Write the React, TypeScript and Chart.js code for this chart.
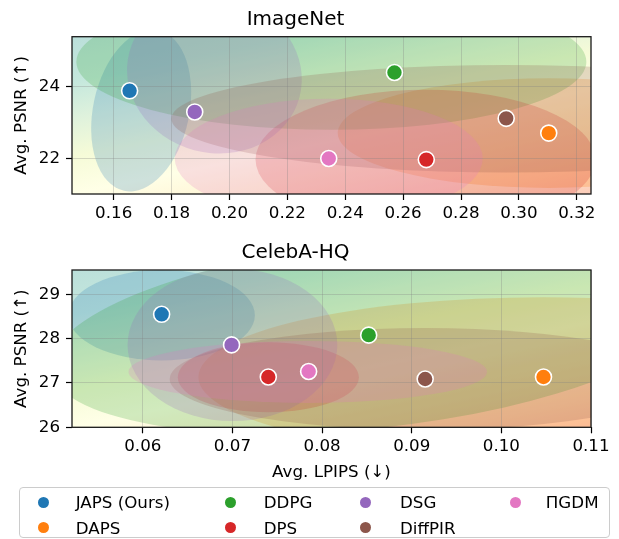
import React, { useEffect, useRef } from 'react';
import { Chart, registerables } from 'chart.js';
Chart.register(...registerables);

// ---------------- data ----------------
const methods = ['JAPS (Ours)', 'DAPS', 'DDPG', 'DPS', 'DSG', 'DiffPIR', 'ΠGDM'];
const methodColors = ['#1f77b4', '#ff7f0e', '#2ca02c', '#d62728', '#9467bd', '#8c564b', '#e377c2'];

// ImageNet: mean LPIPS / PSNR
const imagenetLPIPS = [0.1655, 0.3103, 0.257, 0.268, 0.188, 0.2956, 0.2343];
const imagenetPSNR = [23.88, 22.7, 24.39, 21.96, 23.29, 23.11, 21.99];
// ImageNet spread ellipses (centre, semi-axes, tilt in degrees)
const imagenetEllX = [0.1695, 0.3103, 0.2352, 0.2677, 0.1948, 0.2956, 0.2343];
const imagenetEllY = [23.33, 22.7, 24.69, 21.96, 24.33, 23.1, 21.99];
const imagenetEllRX = [0.0166, 0.0729, 0.0881, 0.0587, 0.0304, 0.1157, 0.0532];
const imagenetEllRY = [2.29, 1.53, 1.9, 1.95, 2.18, 1.5, 1.67];
const imagenetEllTilt = [12, 0, 0, 0, 15, 0, 0];

// CelebA-HQ: mean LPIPS / PSNR
const celebaLPIPS = [0.0621, 0.1047, 0.0852, 0.074, 0.0699, 0.0915, 0.0785];
const celebaPSNR = [28.55, 27.135, 28.08, 27.135, 27.86, 27.09, 27.26];
const celebaEllX = [0.0621, 0.1047, 0.0855, 0.074, 0.07, 0.0915, 0.0784];
const celebaEllY = [28.53, 27.135, 28.08, 27.13, 27.86, 27.09, 27.25];
const celebaEllRX = [0.0104, 0.0385, 0.036, 0.0101, 0.0117, 0.0285, 0.02];
const celebaEllRY = [1.02, 1.8, 2.1, 0.79, 1.72, 1.15, 0.7];
const celebaEllTilt = [0, 0, -6, 0, 0, 0, 0];

// axes
const imagenetXTicks = [0.16, 0.18, 0.2, 0.22, 0.24, 0.26, 0.28, 0.3, 0.32];
const imagenetYTicks = [22, 24];
const imagenetXRange = [0.1456, 0.3249];
const imagenetYRange = [21.0, 25.39];
const celebaXTicks = [0.06, 0.07, 0.08, 0.09, 0.1, 0.11];
const celebaYTicks = [26, 27, 28, 29];
const celebaXRange = [0.0521, 0.11];
const celebaYRange = [26, 29.55];

// ---------------- styling ----------------
const FONT = 'DejaVu Sans';
// Spectral-like colour map (teal top end)
const BG_STOPS: [number, string][] = [
  [0.0, '#9e0142'],
  [0.1, '#d53e4f'],
  [0.2, '#f46d43'],
  [0.3, '#fdae61'],
  [0.4, '#fee08b'],
  [0.5, '#ffffbf'],
  [0.6, '#e6f598'],
  [0.7, '#abdda4'],
  [0.8, '#66c2a5'],
  [1.0, '#3a9c9a'],
];
const BG_V0 = 0.5;
const BG_A = 0.42; // weight of PSNR direction
const BG_B = 0.28; // weight of LPIPS direction
const BG_ALPHA = 0.38;
const ELL_ALPHA = 0.22;

function hexA(hex: string, a: number) {
  const r = parseInt(hex.slice(1, 3), 16);
  const g = parseInt(hex.slice(3, 5), 16);
  const b = parseInt(hex.slice(5, 7), 16);
  return `rgba(${r},${g},${b},${a})`;
}

function decorPlugin(ex: number[], ey: number[], erx: number[], ery: number[], tilt: number[]) {
  return {
    id: 'decor',
    beforeDraw(chart: any) {
      const { ctx, chartArea: a, scales } = chart;
      const xs = scales.x;
      const ys = scales.y;
      const W = a.right - a.left;
      const H = a.bottom - a.top;
      ctx.save();
      ctx.beginPath();
      ctx.rect(a.left, a.top, W, H);
      ctx.clip();
      ctx.fillStyle = '#ffffff';
      ctx.fillRect(a.left, a.top, W, H);
      // background quality gradient
      const gx = -BG_B / W;
      const gy = -BG_A / H;
      const g2 = gx * gx + gy * gy;
      const p0x = a.left - (BG_V0 * gx) / g2;
      const p0y = a.bottom - (BG_V0 * gy) / g2;
      const p1x = p0x + gx / g2;
      const p1y = p0y + gy / g2;
      const grad = ctx.createLinearGradient(p0x, p0y, p1x, p1y);
      BG_STOPS.forEach(([t, c]) => grad.addColorStop(t, c));
      ctx.globalAlpha = BG_ALPHA;
      ctx.fillStyle = grad;
      ctx.fillRect(a.left, a.top, W, H);
      ctx.globalAlpha = 1;
      // spread ellipses
      for (let i = 0; i < ex.length; i++) {
        const cx = xs.getPixelForValue(ex[i]);
        const cy = ys.getPixelForValue(ey[i]);
        const rx = Math.abs(xs.getPixelForValue(ex[i] + erx[i]) - cx);
        const ry = Math.abs(ys.getPixelForValue(ey[i] + ery[i]) - cy);
        ctx.beginPath();
        ctx.ellipse(cx, cy, rx, ry, (tilt[i] * Math.PI) / 180, 0, Math.PI * 2);
        ctx.fillStyle = hexA(methodColors[i], ELL_ALPHA);
        ctx.fill();
      }
      ctx.restore();
    },
    afterDraw(chart: any) {
      const { ctx, chartArea: a } = chart;
      ctx.save();
      ctx.strokeStyle = '#1a1a1a';
      ctx.lineWidth = 1.3;
      ctx.strokeRect(a.left, a.top, a.right - a.left, a.bottom - a.top);
      ctx.restore();
    },
  };
}

type PanelCfg = {
  title: string;
  xs: number[];
  ys: number[];
  xTicks: number[];
  yTicks: number[];
  xRange: number[];
  yRange: number[];
  ell: [number[], number[], number[], number[], number[]];
  height: number;
  plotBottom: number;
  titlePad: { top: number; bottom: number };
  xTitle: boolean;
};

function buildChart(canvas: HTMLCanvasElement, p: PanelCfg) {
  const datasets = methods.map((m, i) => ({
    label: m,
    data: [{ x: p.xs[i], y: p.ys[i] }],
    backgroundColor: methodColors[i],
    borderColor: '#ffffff',
    borderWidth: 1.6,
    pointRadius: 8,
    pointHoverRadius: 8,
  }));
  const tickFont = { family: FONT, size: 16.7, lineHeight: 1.2 };
  return new Chart(canvas, {
    type: 'scatter',
    data: { datasets },
    plugins: [decorPlugin(...p.ell)],
    options: {
      animation: false,
      responsive: false,
      events: [],
      layout: { padding: { left: 0, right: 28, top: 0, bottom: 0 } },
      plugins: {
        legend: { display: false },
        tooltip: { enabled: false },
        title: {
          display: true,
          text: p.title,
          color: '#000',
          font: { family: FONT, size: 20, weight: 'normal', lineHeight: 1.2 },
          padding: p.titlePad,
        },
      },
      scales: {
        x: {
          type: 'linear',
          min: p.xRange[0],
          max: p.xRange[1],
          afterBuildTicks: (s: any) => {
            s.ticks = p.xTicks.map((v) => ({ value: v }));
          },
          afterFit: (s: any) => {
            s.height = p.height - p.plotBottom;
          },
          border: { display: false },
          grid: {
            color: 'rgba(128,128,128,0.3)',
            lineWidth: 1,
            tickColor: '#000',
            tickLength: 6,
            tickWidth: 1.2,
          },
          ticks: {
            color: '#000',
            font: tickFont,
            padding: 3.8,
            autoSkip: false,
            maxRotation: 0,
            callback: (v: any) => Number(v).toFixed(2),
          },
          title: {
            display: p.xTitle,
            text: 'Avg. LPIPS (↓)',
            color: '#000',
            font: tickFont,
            padding: { top: 0, bottom: 7 },
          },
        },
        y: {
          type: 'linear',
          min: p.yRange[0],
          max: p.yRange[1],
          afterBuildTicks: (s: any) => {
            s.ticks = p.yTicks.map((v) => ({ value: v }));
          },
          afterFit: (s: any) => {
            s.width = 72;
          },
          border: { display: false },
          grid: {
            color: 'rgba(128,128,128,0.3)',
            lineWidth: 1,
            tickColor: '#000',
            tickLength: 6,
            tickWidth: 1.2,
          },
          ticks: {
            color: '#000',
            font: tickFont,
            padding: 6,
            autoSkip: false,
            callback: (v: any) => String(Math.round(Number(v))),
          },
          title: {
            display: true,
            text: 'Avg. PSNR (↑)',
            color: '#000',
            font: tickFont,
            padding: { top: 11.4, bottom: 0 },
          },
        },
      },
    } as any,
  });
}

const legendCols = [
  { marker: 43.8, text: 75.7 },
  { marker: 230, text: 263.7 },
  { marker: 365.7, text: 400 },
  { marker: 515, text: 545.8 },
];
// column-major placement, two rows
const legendRowsY = [502, 527.5];

export default function App() {
  const topRef = useRef<HTMLCanvasElement>(null);
  const botRef = useRef<HTMLCanvasElement>(null);

  useEffect(() => {
    const c1 = buildChart(topRef.current!, {
      title: 'ImageNet',
      xs: imagenetLPIPS,
      ys: imagenetPSNR,
      xTicks: imagenetXTicks,
      yTicks: imagenetYTicks,
      xRange: imagenetXRange,
      yRange: imagenetYRange,
      ell: [imagenetEllX, imagenetEllY, imagenetEllRX, imagenetEllRY, imagenetEllTilt],
      height: 240,
      plotBottom: 194,
      titlePad: { top: 7.5, bottom: 5.2 },
      xTitle: false,
    });
    const c2 = buildChart(botRef.current!, {
      title: 'CelebA-HQ',
      xs: celebaLPIPS,
      ys: celebaPSNR,
      xTicks: celebaXTicks,
      yTicks: celebaYTicks,
      xRange: celebaXRange,
      yRange: celebaYRange,
      ell: [celebaEllX, celebaEllY, celebaEllRX, celebaEllRY, celebaEllTilt],
      height: 250,
      plotBottom: 187.3,
      titlePad: { top: 0.8, bottom: 5.2 },
      xTitle: true,
    });
    return () => {
      c1.destroy();
      c2.destroy();
    };
  }, []);

  return (
    <div
      style={{
        position: 'fixed',
        left: 0,
        top: 0,
        width: 619,
        height: 539,
        background: '#fff',
        overflow: 'hidden',
        fontFamily: FONT,
      }}
    >
      <canvas
        ref={topRef}
        width={619}
        height={240}
        style={{ position: 'absolute', left: 0, top: 0, width: 619, height: 240 }}
      />
      <canvas
        ref={botRef}
        width={619}
        height={250}
        style={{ position: 'absolute', left: 0, top: 240, width: 619, height: 250 }}
      />
      <div
        style={{
          position: 'absolute',
          left: 18.7,
          top: 487,
          width: 591,
          height: 51,
          border: '1px solid #cccccc',
          borderRadius: 4,
          background: 'rgba(255,255,255,0.8)',
          boxSizing: 'border-box',
        }}
      />
      {methods.map((m, i) => {
        const col = legendCols[Math.floor(i / 2)];
        const y = legendRowsY[i % 2];
        return (
          <React.Fragment key={m}>
            <span
              style={{
                position: 'absolute',
                left: col.marker - 5.5,
                top: y - 5.5,
                width: 11,
                height: 11,
                borderRadius: '50%',
                background: methodColors[i],
              }}
            />
            <span
              style={{
                position: 'absolute',
                left: col.text,
                top: y - 10,
                height: 20,
                lineHeight: '20px',
                fontSize: 16.7,
                color: '#000',
                whiteSpace: 'nowrap',
              }}
            >
              {m}
            </span>
          </React.Fragment>
        );
      })}
    </div>
  );
}
